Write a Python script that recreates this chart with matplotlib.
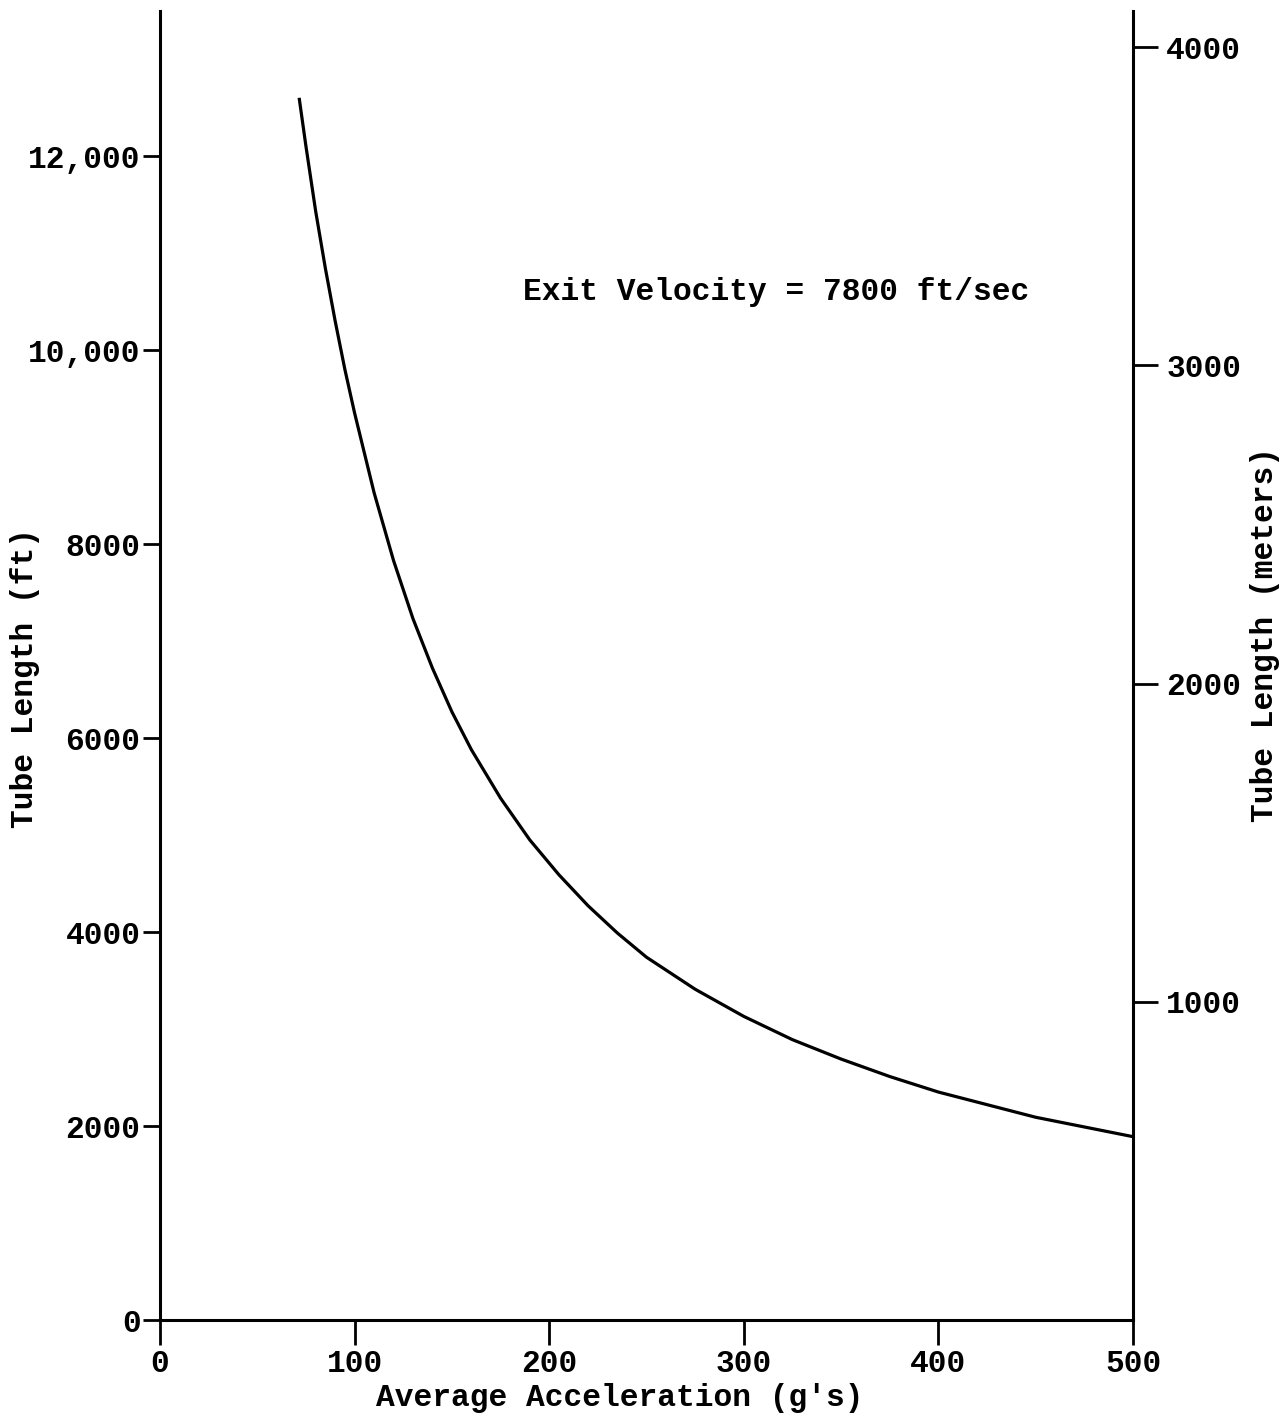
import matplotlib
matplotlib.use("Agg")
import matplotlib.pyplot as plt

# Data
accel_g = [71.5, 75, 80, 85, 90, 95, 100, 110, 120, 130, 140, 150, 160, 175, 190, 205,
           220, 235, 250, 275, 300, 325, 350, 375, 400, 425, 450, 475, 500]
length_ft = [12600, 12100, 11430, 10840, 10300, 9800, 9350, 8530, 7830, 7230, 6720, 6270,
             5880, 5380, 4950, 4590, 4270, 3990, 3740, 3410, 3130, 2890, 2690, 2510,
             2350, 2220, 2090, 1990, 1890]

x_ticks = [0, 100, 200, 300, 400, 500]
y_ticks_ft = [0, 2000, 4000, 6000, 8000, 10000, 12000]
y_ticklabels_ft = ["0", "2000", "4000", "6000", "8000", "10,000", "12,000"]
y_ticks_m = [1000, 2000, 3000, 4000]

FT_TO_M = 0.3048
YMAX_FT = 13500

plt.rcParams['font.family'] = ['Liberation Mono', 'DejaVu Sans Mono']
plt.rcParams['font.weight'] = 'bold'
FS = 22.5

W, H = 1288, 1418
fig = plt.figure(figsize=(W / 100, H / 100), dpi=100)
ax = fig.add_axes([160/W, 98/H, 973/W, 1309.5/H])

ax.plot(accel_g, length_ft, color='black', lw=2.3, solid_capstyle='butt',
        solid_joinstyle='round')

ax.set_xlim(0, 500)
ax.set_ylim(0, YMAX_FT)
ax.set_xticks(x_ticks)
ax.set_xticklabels([str(v) for v in x_ticks], fontsize=FS)
ax.set_yticks(y_ticks_ft)
ax.set_yticklabels(y_ticklabels_ft, fontsize=FS)

for s in ['top', 'right']:
    ax.spines[s].set_visible(False)
for s in ['left', 'bottom']:
    ax.spines[s].set_linewidth(2.2)

ax.tick_params(axis='y', direction='out', length=12, width=2, pad=2)
ax.tick_params(axis='x', direction='out', length=18, width=2, pad=3)

ax2 = ax.twinx()
ax2.set_ylim(0, YMAX_FT * FT_TO_M)
ax2.set_yticks(y_ticks_m)
ax2.set_yticklabels([str(v) for v in y_ticks_m], fontsize=FS)
for s in ['top', 'left', 'bottom']:
    ax2.spines[s].set_visible(False)
ax2.spines['right'].set_linewidth(2.2)
ax2.tick_params(axis='y', direction='out', length=18, width=2, pad=6)

fig.text(25/W, 1 - 678/H, "Tube Length (ft)", fontsize=FS, rotation=90,
         ha='center', va='center')
fig.text(1265/W, 1 - 634/H, "Tube Length (meters)", fontsize=FS, rotation=90,
         ha='center', va='center')
fig.text(620/W, 1 - 1398/H, "Average Acceleration (g's)", fontsize=FS,
         ha='center', va='center')

ax.text(186.5, 10598, "Exit Velocity = 7800 ft/sec", fontsize=FS,
        ha='left', va='center')

fig.savefig("out.png", dpi=100, facecolor='white')
